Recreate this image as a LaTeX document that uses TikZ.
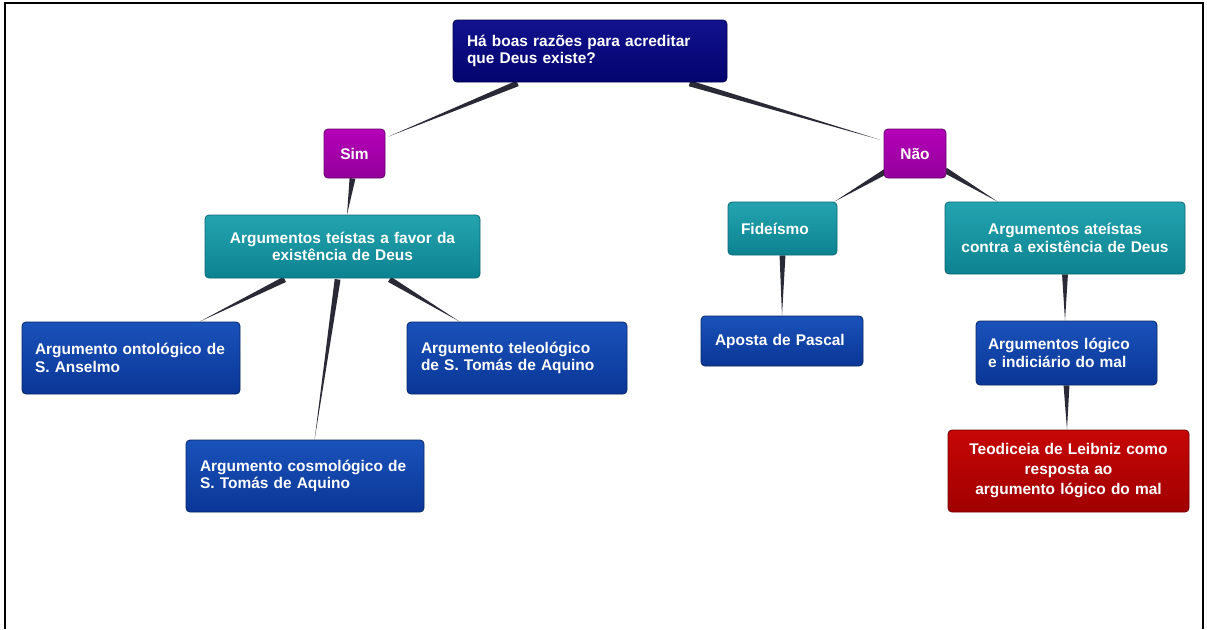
\documentclass[tikz,border=0pt]{standalone}
\usepackage{fontspec}
\setmainfont{Liberation Sans}
\usetikzlibrary{calc,backgrounds}
\definecolor{navyT}{HTML}{12128E}
\definecolor{navyB}{HTML}{03036E}
\definecolor{purT}{HTML}{B400B8}
\definecolor{purB}{HTML}{92009A}
\definecolor{tealT}{HTML}{24A4B0}
\definecolor{tealB}{HTML}{0D8290}
\definecolor{bluT}{HTML}{1A52BA}
\definecolor{bluB}{HTML}{0A3696}
\definecolor{redT}{HTML}{C60606}
\definecolor{redB}{HTML}{A00000}
\definecolor{wedge}{HTML}{2A2A36}
\newcommand\wedgeconn[2]{\fill[wedge] (#1) -- ($(#1)!2.2pt!90:(#2)$) -- (#2) -- ($(#1)!2.2pt!-90:(#2)$) -- cycle;}
\begin{document}
\begin{tikzpicture}[x=0.75pt,y=-0.75pt,
  box/.style={rounded corners=3pt, line width=0.6pt, inner ysep=0pt,
    font=\bfseries\fontsize{11.6}{13}\selectfont, text=white},
  navybox/.style={box, draw=navyB!70!black, top color=navyT, bottom color=navyB},
  purbox/.style={box, draw=purB!70!black, top color=purT, bottom color=purB},
  tealbox/.style={box, draw=tealB!80!black, top color=tealT, bottom color=tealB},
  blubox/.style={box, draw=bluB!70!black, top color=bluT, bottom color=bluB},
  redbox/.style={box, draw=redB!70!black, top color=redT, bottom color=redB},
]
\useasboundingbox (0,0) rectangle (1207,629);
\draw[line width=1.5pt] (5,629) -- (5,3) -- (1203,3) -- (1203,629);

\node[navybox, inner xsep=10.5pt, text width=184.5pt, minimum height=46.5pt, align=left] (top) at (590,51)
  {Há boas razões para acreditar\\que Deus existe?};
\node[purbox, inner xsep=0pt, minimum width=45.75pt, minimum height=36.75pt, align=center] (sim) at (354.5,153.5) {Sim};
\node[purbox, inner xsep=0pt, minimum width=46.5pt, minimum height=36.75pt, align=center] (nao) at (915,153.5) {Não};
\node[tealbox, inner xsep=8pt, text width=190.25pt, minimum height=47.25pt, align=center] (teistas) at (342.5,246.5)
  {Argumentos teístas a favor da\\existência de Deus};
\node[tealbox, inner xsep=9.75pt, text width=62.25pt, minimum height=39.75pt, align=left] (fide) at (782.5,228.5) {Fideísmo};
\node[tealbox, inner xsep=8pt, text width=164pt, minimum height=54pt, align=center] (ateistas) at (1065,238)
  {Argumentos ateístas\\contra a existência de Deus};
\node[blubox, inner xsep=9.75pt, text width=144pt, minimum height=54pt, align=left] (onto) at (131,358)
  {Argumento ontológico de\\S. Anselmo};
\node[blubox, inner xsep=10.5pt, text width=144pt, minimum height=54pt, align=left] (tele) at (517,358)
  {Argumento teleológico\\de S. Tomás de Aquino};
\node[blubox, inner xsep=10.5pt, text width=157.5pt, minimum height=54pt, align=left] (cosmo) at (305,476)
  {Argumento cosmológico de\\S. Tomás de Aquino};
\node[blubox, inner xsep=10.5pt, text width=100.5pt, minimum height=37.5pt, align=left] (aposta) at (782,341)
  {Aposta de Pascal};
\node[blubox, inner xsep=9pt, text width=117.75pt, minimum height=48pt, align=left] (logico) at (1066.5,353)
  {Argumentos lógico\\e indiciário do mal};
\node[redbox, inner xsep=8pt, text width=164.75pt, minimum height=61.5pt, align=center,
  font=\bfseries\fontsize{11.6}{15}\selectfont] (teod) at (1068.5,471)
  {\raisebox{-2pt}{}Teodiceia de Leibniz como\\resposta ao\\argumento lógico do mal};

\begin{scope}[on background layer]
\fill[white] (0,0) rectangle (1207,629);
\coordinate (s1) at ($(top.south west)+(65,1)$);
\coordinate (e1) at ($(sim.north east)+(3,8)$);
\wedgeconn{s1}{e1}
\coordinate (s2) at ($(top.south west)+(237,1)$);
\coordinate (e2) at ($(nao.north west)+(-4,11)$);
\wedgeconn{s2}{e2}
\coordinate (s3) at ($(sim.south)+(-2,0)$);
\coordinate (e3) at ($(teistas.north)+(4.5,0)$);
\wedgeconn{s3}{e3}
\coordinate (s4) at ($(teistas.south west)+(80,1)$);
\coordinate (e4) at ($(onto.north west)+(178,0)$);
\wedgeconn{s4}{e4}
\coordinate (s5) at ($(teistas.south west)+(133,1)$);
\coordinate (e5) at ($(cosmo.north west)+(129,0)$);
\wedgeconn{s5}{e5}
\coordinate (s6) at ($(teistas.south west)+(185,1)$);
\coordinate (e6) at ($(tele.north west)+(53,0)$);
\wedgeconn{s6}{e6}
\coordinate (s7) at ($(nao.south west)+(4,-8)$);
\coordinate (e7) at ($(fide.north east)+(-3,0)$);
\wedgeconn{s7}{e7}
\coordinate (s8) at ($(nao.south east)+(-1,-8)$);
\coordinate (e8) at ($(ateistas.north west)+(53,0)$);
\wedgeconn{s8}{e8}
\wedgeconn{fide.south}{aposta.north}
\coordinate (e10) at ($(logico.north)+(-1.5,0)$);
\wedgeconn{ateistas.south}{e10}
\coordinate (e11) at ($(teod.north)+(-1.5,0)$);
\wedgeconn{logico.south}{e11}
\end{scope}
\end{tikzpicture}
\end{document}
